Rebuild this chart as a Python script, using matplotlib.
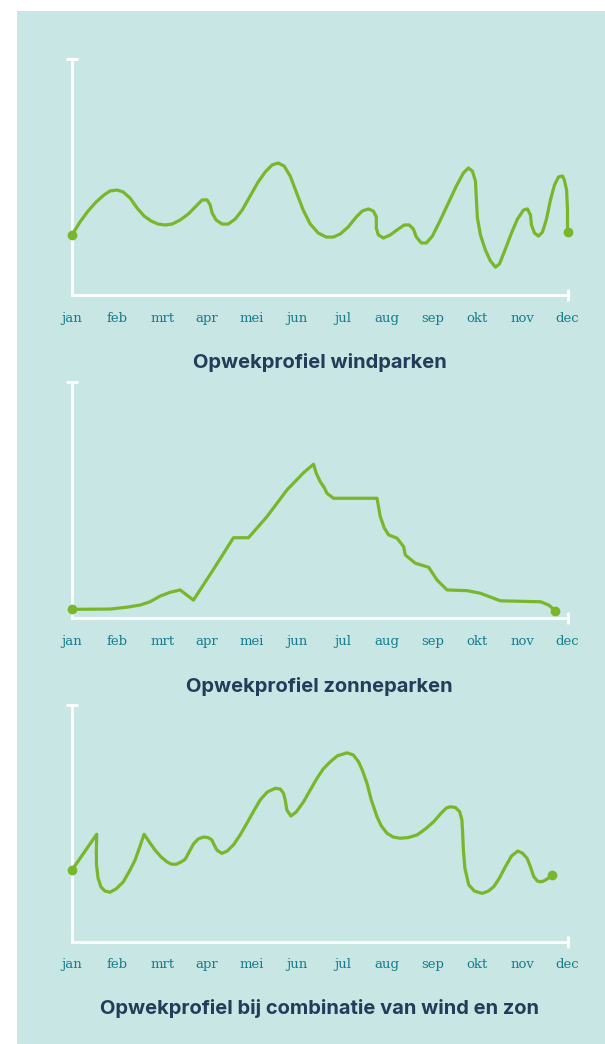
import matplotlib
matplotlib.use("Agg")
import matplotlib.pyplot as plt
from matplotlib.patches import Rectangle

# maanden op de x-as
months = ["jan", "feb", "mrt", "apr", "mei", "jun", "jul", "aug", "sep", "okt", "nov", "dec"]

# profiel wind (x in maanden, y in % van de ashoogte)
wind_x = [0, 0.178, 0.356, 0.533, 0.711, 0.844, 1.0, 1.133, 1.289, 1.444, 1.6, 1.756, 1.911,
          2.067, 2.222, 2.4, 2.578, 2.756, 2.889, 3.0, 3.067, 3.111, 3.2, 3.333, 3.467, 3.622,
          3.778, 3.956, 4.133, 4.289, 4.444, 4.578, 4.711, 4.844, 4.978, 5.133, 5.289, 5.467,
          5.644, 5.8, 5.956, 6.133, 6.311, 6.444, 6.578, 6.689, 6.756, 6.756, 6.8, 6.911, 7.067,
          7.244, 7.378, 7.489, 7.578, 7.644, 7.756, 7.867, 8.0, 8.178, 8.356, 8.533, 8.689, 8.8,
          8.889, 8.956, 8.978, 9.0, 9.067, 9.178, 9.289, 9.4, 9.489, 9.622, 9.756, 9.889, 10.022,
          10.111, 10.178, 10.2, 10.267, 10.356, 10.444, 10.533, 10.622, 10.711, 10.8, 10.889,
          10.93, 10.98, 11.0, 11.0]
wind_y = [25.4, 30.9, 35.5, 39.3, 42.3, 44.0, 44.4, 43.6, 41.0, 36.8, 33.4, 31.3, 30.0,
          29.6, 30.0, 31.7, 34.2, 37.6, 40.2, 40.2, 38.1, 34.7, 31.7, 30.0, 30.0, 32.1,
          35.9, 41.9, 47.8, 52.0, 55.0, 55.8, 54.5, 50.3, 43.6, 35.9, 30.0, 26.2,
          24.5, 24.5, 25.8, 28.8, 33.0, 35.5, 36.4, 35.5, 33.0, 28.3, 25.4, 24.1, 25.4,
          27.9, 29.6, 29.6, 27.9, 24.5, 22.0, 22.0, 24.9, 31.7, 38.9, 46.1, 51.6, 53.7,
          52.4, 48.2, 40.2, 32.6, 25.4, 19.0, 14.4, 11.8, 13.1, 19.5, 26.2, 32.1, 35.9,
          36.4, 33.8, 29.6, 26.2, 24.9, 26.6, 32.1, 40.2, 46.5, 49.9, 50.3,
          48.6, 44.4, 35.9, 26.6]

# profiel zon
zon_x = [0, 0.844, 1.216, 1.511, 1.733, 1.956, 2.178, 2.4, 2.696, 3.14, 3.584, 3.918, 4.327,
         4.771, 5.14, 5.362, 5.42, 5.511, 5.6, 5.66, 5.807, 6.771, 6.844, 6.933, 7.029, 7.216,
         7.362, 7.4, 7.622, 7.918, 8.104, 8.327, 8.771, 9.067, 9.511, 10.4, 10.584, 10.733]
zon_y = [3.8, 3.9, 4.7, 5.6, 7.0, 9.4, 11.0, 12.0, 7.7, 20.7, 34.1, 34.1, 43.0,
         54.3, 61.6, 65.2, 61.5, 57.8, 55.3, 52.9, 50.8, 50.8, 43.0, 38.2, 35.3, 33.9,
         30.3, 26.8, 23.3, 21.6, 16.2, 12.0, 11.7, 10.6, 7.4, 7.0, 5.6, 3.1]

# profiel wind + zon
combi_x = [0, 0.549, 0.54, 0.544, 0.578, 0.644, 0.733, 0.844, 0.978, 1.14, 1.289, 1.4, 1.511,
           1.6, 1.733, 1.844, 1.978, 2.104, 2.2, 2.311, 2.422, 2.511, 2.6, 2.696, 2.8, 2.918,
           3.022, 3.104, 3.156, 3.216, 3.327, 3.444, 3.584, 3.733, 3.882, 4.022, 4.178, 4.333,
           4.511, 4.622, 4.696, 4.733, 4.771, 4.86, 4.978, 5.14, 5.289, 5.438, 5.578, 5.733,
           5.889, 6.104, 6.244, 6.362, 6.444, 6.549, 6.644, 6.771, 6.867, 6.993, 7.133, 7.289,
           7.467, 7.66, 7.844, 8.029, 8.2, 8.311, 8.4, 8.511, 8.607, 8.656, 8.673, 8.689, 8.722,
           8.807, 8.933, 9.104, 9.244, 9.362, 9.489, 9.622, 9.756, 9.896, 10.0, 10.104, 10.178,
           10.251, 10.333, 10.4, 10.467, 10.549, 10.66]
combi_y = [30.3, 45.4, 38.7, 32.4, 26.9, 23.1, 21.4, 20.9, 22.3, 25.3, 30.3, 34.5, 40.4,
           45.4, 41.7, 38.7, 35.8, 33.8, 32.8, 32.7, 33.7, 34.8, 37.9, 41.3, 43.4, 44.2,
           44.0, 43.0, 40.9, 38.7, 37.3, 38.3, 40.9, 45.1, 50.0, 54.8, 59.9, 63.2,
           64.8, 64.5, 62.7, 59.9, 55.6, 53.1, 54.8, 59.1, 64.1, 69.0, 73.0, 76.0,
           78.5, 79.8, 78.9, 76.0, 72.5, 66.9, 59.9, 52.8, 48.9, 45.8, 44.2, 43.7,
           44.0, 45.1, 47.6, 50.7, 54.4, 56.5, 57.0, 56.7, 54.9, 51.4, 45.8, 38.7, 31.1,
           24.0, 21.4, 20.4, 21.4, 23.2, 26.9, 31.7, 36.2, 38.3, 37.4, 35.2, 31.6,
           27.5, 25.6, 25.3, 25.6, 26.5, 28.2]

titles = ["Opwekprofiel windparken", "Opwekprofiel zonneparken",
          "Opwekprofiel bij combinatie van wind en zon"]

BG = "#c8e6e3"
GREEN = "#78b72b"
TICK_COLOR = "#167e8e"
TITLE_COLOR = "#243b5a"

W, H = 605, 1044
fig = plt.figure(figsize=(W / 100, H / 100), dpi=100)
fig.patch.set_facecolor("white")
fig.add_artist(Rectangle((17 / W, 0), 1 - 17 / W, (H - 11) / H,
                         transform=fig.transFigure, facecolor=BG, edgecolor="none", zorder=0))

# (onderkant x-as, bovenkant y-as, titel) in pixels
layout = [(295, 58.5, 362), (618.3, 382, 686), (941.7, 705, 1008)]
series = [(wind_x, wind_y), (zon_x, zon_y), (combi_x, combi_y)]

x0, x1 = 72, 567.5
for (bottom, top, title_y), (xs, ys), title in zip(layout, series, titles):
    ax = fig.add_axes([x0 / W, 1 - bottom / H, (x1 - x0) / W, (bottom - top) / H])
    ax.set_facecolor("none")
    ax.set_xlim(0, 11)
    ax.set_ylim(0, 100)
    for side in ["top", "right"]:
        ax.spines[side].set_visible(False)
    for side in ["left", "bottom"]:
        ax.spines[side].set_color("white")
        ax.spines[side].set_linewidth(2)
    # kapjes aan het eind van de assen
    ax.plot([0], [100], marker="_", color="white", markersize=8, markeredgewidth=2, clip_on=False)
    ax.plot([11], [0], marker="|", color="white", markersize=8, markeredgewidth=2, clip_on=False)

    ax.plot(xs, ys, color=GREEN, linewidth=2.3, solid_joinstyle="round",
            solid_capstyle="round", clip_on=False, zorder=3)
    ax.plot([xs[0], xs[-1]], [ys[0], ys[-1]], "o", color=GREEN, markersize=6,
            clip_on=False, zorder=4)

    ax.set_yticks([])
    ax.set_xticks(range(len(months)))
    ax.set_xticklabels(months, family="DejaVu Serif", fontsize=9.5, color=TICK_COLOR)
    ax.tick_params(axis="x", length=0, pad=12)

    fig.text(0.5 * (x0 + x1) / W, 1 - title_y / H, title, ha="center", va="center",
             fontsize=14.5, fontweight="bold", family="Inter", color=TITLE_COLOR)

fig.savefig("out.png", dpi=100, facecolor=fig.get_facecolor())
